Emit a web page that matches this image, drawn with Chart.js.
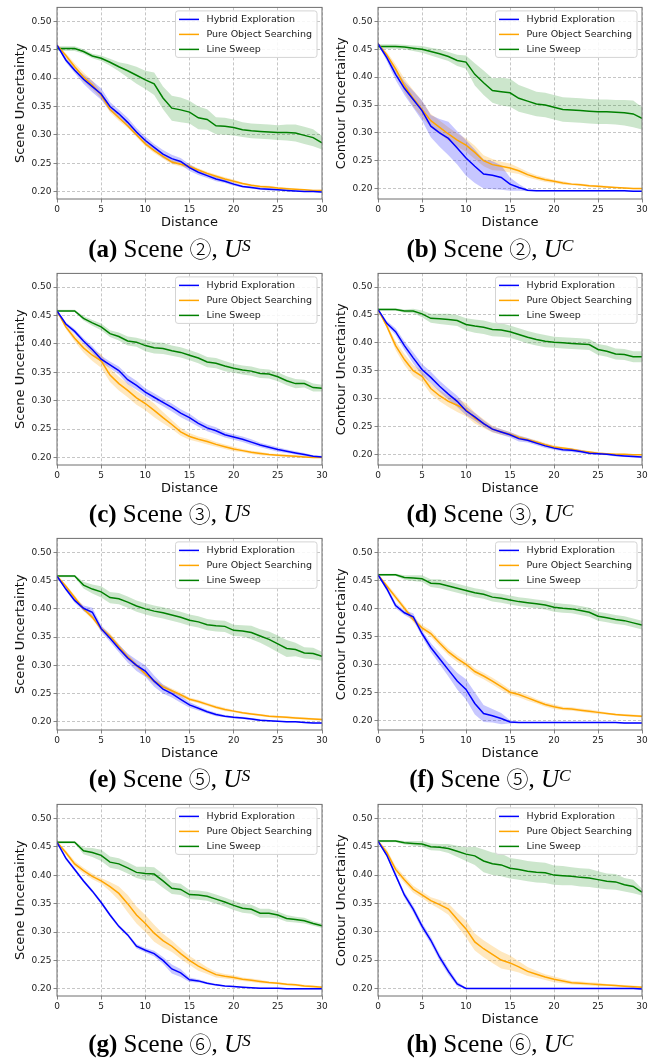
<!DOCTYPE html>
<html>
<head>
<meta charset="utf-8">
<script src="https://cdn.jsdelivr.net/npm/chart.js@4.4.0/dist/chart.umd.min.js"></script>
<style>
    html, body { margin: 0; padding: 0; background: #fff; }
    #fig { position: relative; width: 670px; height: 1061px; overflow: hidden; }
    .panel { position: absolute; width: 335px; height: 232px; }
    .caption {
        position: absolute; width: 335px; height: 30px; line-height: 30px;
        text-align: center; white-space: nowrap; color: #000;
        font-family: "Liberation Serif", "Times New Roman", serif; font-size: 25px;
    }
    .caption .circ { font-family: "Noto Sans CJK JP", "DejaVu Sans", sans-serif; font-size: 22px; font-weight: 300; }
    .caption sup { font-size: 17.5px; font-style: italic; vertical-align: 0; position: relative; top: -6px; }
</style>
</head>
<body>
<div id="fig"></div>
<script>
const distance = [0, 1, 2, 3, 4, 5, 6, 7, 8, 9, 10, 11, 12, 13, 14, 15, 16, 17, 18, 19, 20, 21, 22, 23, 24, 25, 26, 27, 28, 29, 30]
const xTicks = [0, 5, 10, 15, 20, 25, 30]
const yTicks = [0.20, 0.25, 0.30, 0.35, 0.40, 0.45, 0.50]
const seriesNames = ['Hybrid Exploration', 'Pure Object Searching', 'Line Sweep']

// (a) scene 2, U^S
const hybridA = [0.458, 0.432, 0.414, 0.398, 0.385, 0.372, 0.350, 0.337, 0.322, 0.305, 0.290, 0.278, 0.266, 0.258, 0.253, 0.242, 0.234, 0.228, 0.222, 0.218, 0.213, 0.209, 0.207, 0.205, 0.204, 0.203, 0.202, 0.201, 0.200, 0.200, 0.199]
const hybridBandA = [0.002, 0.004, 0.005, 0.008, 0.010, 0.010, 0.008, 0.007, 0.008, 0.007, 0.007, 0.006, 0.007, 0.007, 0.006, 0.006, 0.005, 0.004, 0.004, 0.003, 0.003, 0.002, 0.002, 0.002, 0.002, 0.001, 0.001, 0.001, 0.001, 0.001, 0.001]
const pureA = [0.458, 0.440, 0.420, 0.402, 0.388, 0.370, 0.345, 0.330, 0.316, 0.300, 0.284, 0.272, 0.262, 0.252, 0.248, 0.244, 0.238, 0.232, 0.227, 0.222, 0.218, 0.214, 0.211, 0.209, 0.208, 0.206, 0.205, 0.204, 0.203, 0.202, 0.202]
const pureBandA = [0.002, 0.004, 0.006, 0.008, 0.008, 0.006, 0.005, 0.005, 0.004, 0.004, 0.004, 0.004, 0.004, 0.004, 0.004, 0.004, 0.003, 0.003, 0.003, 0.003, 0.003, 0.002, 0.002, 0.002, 0.002, 0.002, 0.002, 0.001, 0.001, 0.001, 0.001]
const sweepA = [0.452, 0.452, 0.452, 0.447, 0.439, 0.435, 0.428, 0.420, 0.413, 0.405, 0.397, 0.390, 0.365, 0.347, 0.344, 0.340, 0.330, 0.327, 0.316, 0.315, 0.313, 0.309, 0.307, 0.306, 0.305, 0.304, 0.304, 0.303, 0.299, 0.295, 0.286]
const sweepBandA = [0.004, 0.004, 0.004, 0.004, 0.004, 0.005, 0.006, 0.008, 0.012, 0.015, 0.016, 0.020, 0.020, 0.022, 0.022, 0.020, 0.020, 0.018, 0.015, 0.015, 0.014, 0.013, 0.013, 0.013, 0.013, 0.013, 0.014, 0.015, 0.015, 0.015, 0.012]

// (b) scene 2, U^C
const hybridB = [0.460, 0.435, 0.405, 0.380, 0.360, 0.340, 0.312, 0.300, 0.290, 0.273, 0.255, 0.240, 0.226, 0.224, 0.220, 0.208, 0.202, 0.197, 0.196, 0.196, 0.196, 0.196, 0.196, 0.196, 0.196, 0.196, 0.196, 0.196, 0.196, 0.195, 0.195]
const hybridBandB = [0.002, 0.006, 0.010, 0.012, 0.015, 0.018, 0.020, 0.025, 0.030, 0.030, 0.032, 0.030, 0.026, 0.025, 0.022, 0.012, 0.006, 0.002, 0.001, 0.001, 0.001, 0.001, 0.001, 0.001, 0.001, 0.001, 0.001, 0.001, 0.001, 0.001, 0.001]
const pureB = [0.460, 0.440, 0.415, 0.385, 0.362, 0.342, 0.322, 0.310, 0.298, 0.287, 0.278, 0.265, 0.250, 0.243, 0.240, 0.237, 0.232, 0.225, 0.220, 0.216, 0.213, 0.210, 0.208, 0.207, 0.205, 0.204, 0.203, 0.202, 0.201, 0.200, 0.200]
const pureBandB = [0.002, 0.005, 0.008, 0.012, 0.015, 0.015, 0.012, 0.012, 0.012, 0.012, 0.012, 0.012, 0.010, 0.010, 0.008, 0.008, 0.006, 0.005, 0.004, 0.004, 0.003, 0.003, 0.002, 0.002, 0.002, 0.002, 0.002, 0.001, 0.001, 0.001, 0.001]
const sweepB = [0.455, 0.455, 0.455, 0.454, 0.452, 0.450, 0.446, 0.442, 0.437, 0.430, 0.427, 0.405, 0.390, 0.376, 0.374, 0.372, 0.362, 0.357, 0.352, 0.350, 0.346, 0.342, 0.341, 0.340, 0.339, 0.338, 0.338, 0.337, 0.336, 0.334, 0.326]
const sweepBandB = [0.004, 0.004, 0.004, 0.004, 0.005, 0.006, 0.007, 0.008, 0.008, 0.010, 0.012, 0.020, 0.022, 0.022, 0.025, 0.025, 0.024, 0.023, 0.022, 0.022, 0.022, 0.022, 0.022, 0.022, 0.022, 0.022, 0.022, 0.022, 0.023, 0.024, 0.020]

// (c) scene 3, U^S
const hybridC = [0.458, 0.435, 0.422, 0.405, 0.390, 0.373, 0.363, 0.353, 0.337, 0.327, 0.315, 0.306, 0.297, 0.288, 0.278, 0.270, 0.260, 0.252, 0.247, 0.240, 0.236, 0.232, 0.227, 0.222, 0.218, 0.214, 0.211, 0.208, 0.205, 0.202, 0.201]
const hybridBandC = [0.002, 0.003, 0.004, 0.005, 0.006, 0.006, 0.006, 0.007, 0.008, 0.008, 0.007, 0.007, 0.007, 0.007, 0.007, 0.007, 0.006, 0.006, 0.006, 0.005, 0.005, 0.005, 0.005, 0.004, 0.004, 0.004, 0.003, 0.003, 0.003, 0.002, 0.002]
const pureC = [0.458, 0.430, 0.410, 0.393, 0.380, 0.370, 0.345, 0.330, 0.318, 0.305, 0.295, 0.283, 0.270, 0.258, 0.245, 0.237, 0.232, 0.228, 0.223, 0.219, 0.215, 0.212, 0.209, 0.207, 0.205, 0.204, 0.203, 0.202, 0.201, 0.200, 0.200]
const pureBandC = [0.002, 0.004, 0.006, 0.008, 0.010, 0.012, 0.012, 0.012, 0.012, 0.012, 0.012, 0.012, 0.010, 0.008, 0.007, 0.006, 0.005, 0.005, 0.004, 0.004, 0.004, 0.003, 0.003, 0.003, 0.002, 0.002, 0.002, 0.002, 0.001, 0.001, 0.001]
const sweepC = [0.458, 0.458, 0.458, 0.445, 0.437, 0.430, 0.418, 0.413, 0.405, 0.403, 0.397, 0.393, 0.392, 0.388, 0.385, 0.380, 0.375, 0.368, 0.366, 0.361, 0.357, 0.354, 0.352, 0.348, 0.347, 0.342, 0.335, 0.330, 0.330, 0.323, 0.322]
const sweepBandC = [0.002, 0.002, 0.002, 0.004, 0.005, 0.006, 0.006, 0.007, 0.008, 0.008, 0.010, 0.010, 0.010, 0.009, 0.009, 0.009, 0.009, 0.009, 0.009, 0.009, 0.008, 0.008, 0.008, 0.008, 0.008, 0.008, 0.008, 0.008, 0.007, 0.007, 0.006]

// (d) scene 3, U^C
const hybridD = [0.460, 0.435, 0.420, 0.395, 0.373, 0.352, 0.338, 0.322, 0.308, 0.295, 0.278, 0.267, 0.255, 0.245, 0.240, 0.235, 0.228, 0.225, 0.220, 0.215, 0.211, 0.208, 0.207, 0.205, 0.202, 0.201, 0.200, 0.198, 0.197, 0.196, 0.195]
const hybridBandD = [0.002, 0.004, 0.006, 0.008, 0.010, 0.010, 0.010, 0.010, 0.010, 0.010, 0.008, 0.007, 0.006, 0.005, 0.005, 0.005, 0.005, 0.004, 0.004, 0.004, 0.003, 0.003, 0.003, 0.003, 0.002, 0.002, 0.002, 0.002, 0.002, 0.002, 0.002]
const pureD = [0.460, 0.430, 0.395, 0.370, 0.350, 0.340, 0.318, 0.305, 0.295, 0.288, 0.280, 0.265, 0.255, 0.245, 0.240, 0.236, 0.230, 0.226, 0.222, 0.217, 0.213, 0.211, 0.209, 0.206, 0.204, 0.202, 0.201, 0.200, 0.200, 0.199, 0.199]
const pureBandD = [0.002, 0.004, 0.008, 0.010, 0.010, 0.010, 0.010, 0.010, 0.010, 0.012, 0.012, 0.010, 0.008, 0.006, 0.005, 0.004, 0.004, 0.003, 0.003, 0.003, 0.003, 0.002, 0.002, 0.002, 0.002, 0.002, 0.001, 0.001, 0.001, 0.001, 0.001]
const sweepD = [0.460, 0.460, 0.460, 0.457, 0.457, 0.452, 0.444, 0.443, 0.442, 0.440, 0.433, 0.430, 0.428, 0.424, 0.423, 0.420, 0.415, 0.410, 0.406, 0.403, 0.401, 0.400, 0.399, 0.398, 0.397, 0.388, 0.385, 0.380, 0.379, 0.375, 0.375]
const sweepBandD = [0.002, 0.002, 0.002, 0.003, 0.004, 0.006, 0.008, 0.009, 0.010, 0.010, 0.011, 0.012, 0.012, 0.012, 0.012, 0.011, 0.011, 0.011, 0.011, 0.011, 0.010, 0.010, 0.010, 0.010, 0.010, 0.010, 0.010, 0.010, 0.010, 0.010, 0.010]

// (e) scene 5, U^S
const hybridE = [0.458, 0.435, 0.415, 0.401, 0.394, 0.365, 0.348, 0.330, 0.313, 0.300, 0.290, 0.272, 0.258, 0.250, 0.240, 0.230, 0.224, 0.218, 0.213, 0.210, 0.208, 0.207, 0.205, 0.203, 0.202, 0.201, 0.200, 0.200, 0.199, 0.198, 0.198]
const hybridBandE = [0.002, 0.003, 0.004, 0.005, 0.008, 0.006, 0.006, 0.007, 0.008, 0.010, 0.010, 0.010, 0.008, 0.007, 0.006, 0.005, 0.004, 0.003, 0.003, 0.002, 0.002, 0.002, 0.002, 0.002, 0.001, 0.001, 0.001, 0.001, 0.001, 0.001, 0.001]
const pureE = [0.458, 0.440, 0.420, 0.400, 0.385, 0.365, 0.352, 0.333, 0.315, 0.300, 0.285, 0.272, 0.262, 0.255, 0.248, 0.240, 0.236, 0.231, 0.226, 0.222, 0.219, 0.216, 0.214, 0.212, 0.210, 0.209, 0.208, 0.207, 0.206, 0.205, 0.204]
const pureBandE = [0.002, 0.003, 0.004, 0.004, 0.004, 0.004, 0.005, 0.005, 0.005, 0.004, 0.004, 0.004, 0.004, 0.004, 0.004, 0.003, 0.003, 0.003, 0.003, 0.003, 0.002, 0.002, 0.002, 0.002, 0.002, 0.002, 0.002, 0.002, 0.002, 0.002, 0.002]
const sweepE = [0.458, 0.458, 0.458, 0.442, 0.435, 0.430, 0.420, 0.418, 0.412, 0.405, 0.400, 0.396, 0.393, 0.389, 0.385, 0.380, 0.377, 0.372, 0.370, 0.369, 0.362, 0.361, 0.358, 0.352, 0.346, 0.338, 0.330, 0.328, 0.322, 0.321, 0.316]
const sweepBandE = [0.002, 0.002, 0.002, 0.006, 0.008, 0.010, 0.010, 0.010, 0.010, 0.010, 0.010, 0.010, 0.010, 0.010, 0.010, 0.010, 0.010, 0.010, 0.010, 0.010, 0.010, 0.010, 0.012, 0.012, 0.014, 0.015, 0.015, 0.012, 0.010, 0.010, 0.008]

// (f) scene 5, U^C
const hybridF = [0.460, 0.435, 0.405, 0.392, 0.385, 0.355, 0.330, 0.310, 0.290, 0.270, 0.255, 0.230, 0.212, 0.208, 0.203, 0.197, 0.196, 0.196, 0.196, 0.196, 0.196, 0.196, 0.196, 0.196, 0.196, 0.196, 0.196, 0.196, 0.195, 0.195, 0.195]
const hybridBandF = [0.002, 0.004, 0.005, 0.004, 0.006, 0.006, 0.008, 0.010, 0.012, 0.015, 0.018, 0.020, 0.015, 0.012, 0.010, 0.003, 0.001, 0.001, 0.001, 0.001, 0.001, 0.001, 0.001, 0.001, 0.001, 0.001, 0.001, 0.001, 0.001, 0.001, 0.001]
const pureF = [0.460, 0.440, 0.420, 0.400, 0.380, 0.365, 0.355, 0.338, 0.322, 0.310, 0.300, 0.287, 0.279, 0.270, 0.260, 0.250, 0.246, 0.240, 0.234, 0.228, 0.224, 0.221, 0.220, 0.218, 0.216, 0.214, 0.212, 0.210, 0.209, 0.208, 0.207]
const pureBandF = [0.002, 0.004, 0.005, 0.005, 0.005, 0.005, 0.006, 0.006, 0.006, 0.006, 0.006, 0.006, 0.006, 0.006, 0.006, 0.005, 0.005, 0.005, 0.004, 0.004, 0.004, 0.003, 0.003, 0.003, 0.003, 0.003, 0.002, 0.002, 0.002, 0.002, 0.002]
const sweepF = [0.460, 0.460, 0.460, 0.455, 0.454, 0.453, 0.445, 0.444, 0.440, 0.436, 0.432, 0.428, 0.425, 0.420, 0.418, 0.415, 0.412, 0.410, 0.408, 0.406, 0.402, 0.400, 0.399, 0.396, 0.393, 0.386, 0.383, 0.380, 0.378, 0.374, 0.370]
const sweepBandF = [0.002, 0.002, 0.002, 0.004, 0.005, 0.006, 0.007, 0.008, 0.008, 0.008, 0.008, 0.008, 0.008, 0.008, 0.008, 0.008, 0.008, 0.008, 0.008, 0.008, 0.008, 0.008, 0.008, 0.008, 0.008, 0.008, 0.008, 0.008, 0.008, 0.008, 0.008]

// (g) scene 6, U^S
const hybridG = [0.458, 0.430, 0.410, 0.390, 0.372, 0.352, 0.330, 0.310, 0.295, 0.275, 0.268, 0.262, 0.250, 0.235, 0.228, 0.216, 0.214, 0.210, 0.207, 0.205, 0.204, 0.203, 0.202, 0.201, 0.201, 0.201, 0.200, 0.200, 0.200, 0.200, 0.200]
const hybridBandG = [0.002, 0.003, 0.003, 0.003, 0.003, 0.003, 0.003, 0.003, 0.003, 0.004, 0.004, 0.005, 0.006, 0.008, 0.007, 0.004, 0.003, 0.002, 0.002, 0.001, 0.001, 0.001, 0.001, 0.001, 0.001, 0.001, 0.001, 0.001, 0.001, 0.001, 0.001]
const pureG = [0.458, 0.440, 0.420, 0.408, 0.398, 0.390, 0.380, 0.368, 0.350, 0.330, 0.315, 0.298, 0.285, 0.275, 0.262, 0.250, 0.240, 0.232, 0.225, 0.222, 0.220, 0.217, 0.215, 0.213, 0.211, 0.210, 0.208, 0.207, 0.205, 0.204, 0.203]
const pureBandG = [0.002, 0.004, 0.005, 0.005, 0.005, 0.005, 0.008, 0.012, 0.015, 0.015, 0.015, 0.015, 0.012, 0.010, 0.009, 0.008, 0.008, 0.006, 0.005, 0.004, 0.004, 0.003, 0.003, 0.003, 0.002, 0.002, 0.002, 0.002, 0.002, 0.002, 0.002]
const sweepG = [0.458, 0.458, 0.458, 0.443, 0.440, 0.435, 0.423, 0.420, 0.413, 0.405, 0.403, 0.402, 0.390, 0.377, 0.375, 0.366, 0.365, 0.363, 0.358, 0.353, 0.347, 0.342, 0.340, 0.333, 0.333, 0.330, 0.324, 0.322, 0.320, 0.315, 0.311]
const sweepBandG = [0.002, 0.002, 0.002, 0.006, 0.008, 0.010, 0.010, 0.010, 0.010, 0.010, 0.012, 0.012, 0.012, 0.010, 0.010, 0.008, 0.008, 0.008, 0.008, 0.008, 0.008, 0.008, 0.008, 0.008, 0.008, 0.006, 0.006, 0.005, 0.005, 0.004, 0.004]

// (h) scene 6, U^C
const hybridH = [0.460, 0.435, 0.400, 0.365, 0.340, 0.310, 0.285, 0.255, 0.230, 0.208, 0.200, 0.200, 0.200, 0.200, 0.200, 0.200, 0.200, 0.200, 0.200, 0.200, 0.200, 0.200, 0.200, 0.200, 0.200, 0.200, 0.200, 0.200, 0.200, 0.200, 0.199]
const hybridBandH = [0.002, 0.003, 0.004, 0.005, 0.006, 0.006, 0.006, 0.006, 0.006, 0.004, 0.001, 0.001, 0.001, 0.001, 0.001, 0.001, 0.001, 0.001, 0.001, 0.001, 0.001, 0.001, 0.001, 0.001, 0.001, 0.001, 0.001, 0.001, 0.001, 0.001, 0.001]
const pureH = [0.460, 0.440, 0.410, 0.392, 0.375, 0.365, 0.355, 0.348, 0.340, 0.322, 0.305, 0.282, 0.270, 0.260, 0.250, 0.245, 0.238, 0.230, 0.225, 0.220, 0.216, 0.213, 0.210, 0.209, 0.208, 0.207, 0.206, 0.205, 0.204, 0.203, 0.202]
const pureBandH = [0.002, 0.005, 0.006, 0.006, 0.006, 0.006, 0.006, 0.008, 0.010, 0.012, 0.015, 0.015, 0.015, 0.015, 0.015, 0.013, 0.010, 0.008, 0.006, 0.005, 0.005, 0.004, 0.003, 0.003, 0.003, 0.003, 0.002, 0.002, 0.002, 0.002, 0.002]
const sweepH = [0.460, 0.460, 0.460, 0.457, 0.456, 0.455, 0.450, 0.449, 0.447, 0.442, 0.437, 0.434, 0.425, 0.420, 0.418, 0.412, 0.410, 0.407, 0.405, 0.404, 0.400, 0.399, 0.398, 0.396, 0.395, 0.392, 0.389, 0.388, 0.383, 0.380, 0.370]
const sweepBandH = [0.002, 0.002, 0.002, 0.003, 0.004, 0.005, 0.006, 0.006, 0.008, 0.010, 0.012, 0.016, 0.020, 0.020, 0.020, 0.018, 0.018, 0.018, 0.018, 0.018, 0.017, 0.017, 0.016, 0.016, 0.016, 0.015, 0.014, 0.014, 0.012, 0.012, 0.006]

const lineColors = ['#0000ff', '#ffa500', '#008000']
const bandColors = ['rgba(0, 0, 255, 0.22)', 'rgba(255, 165, 0, 0.25)', 'rgba(0, 128, 0, 0.2)']

const panels = [
    {tag: 'a', scene: '②', u: 'S', yMin: 0.1868, yMax: 0.5247, series: [[hybridA, hybridBandA], [pureA, pureBandA], [sweepA, sweepBandA]]},
    {tag: 'b', scene: '②', u: 'C', yMin: 0.1813, yMax: 0.5252, series: [[hybridB, hybridBandB], [pureB, pureBandB], [sweepB, sweepBandB]]},
    {tag: 'c', scene: '③', u: 'S', yMin: 0.1867, yMax: 0.5241, series: [[hybridC, hybridBandC], [pureC, pureBandC], [sweepC, sweepBandC]]},
    {tag: 'd', scene: '③', u: 'C', yMin: 0.1807, yMax: 0.5246, series: [[hybridD, hybridBandD], [pureD, pureBandD], [sweepD, sweepBandD]]},
    {tag: 'e', scene: '⑤', u: 'S', yMin: 0.1856, yMax: 0.5247, series: [[hybridE, hybridBandE], [pureE, pureBandE], [sweepE, sweepBandE]]},
    {tag: 'f', scene: '⑤', u: 'C', yMin: 0.1825, yMax: 0.5250, series: [[hybridF, hybridBandF], [pureF, pureBandF], [sweepF, sweepBandF]]},
    {tag: 'g', scene: '⑥', u: 'S', yMin: 0.1874, yMax: 0.5247, series: [[hybridG, hybridBandG], [pureG, pureBandG], [sweepG, sweepBandG]]},
    {tag: 'h', scene: '⑥', u: 'C', yMin: 0.1866, yMax: 0.5248, series: [[hybridH, hybridBandH], [pureH, pureBandH], [sweepH, sweepBandH]]},
]

// layout of the 4x2 grid
const plotTops = [3, 269, 534, 800]
const captionCenters = [247, 512, 777, 1042]
const captionX = [169.5, 490]
const font = 'DejaVu Sans'

const toPoints = (values) => values.map((v, i) => ({x: distance[i], y: v}))

// frame round the axes + matplotlib style legend box
const framePlugin = {
    id: 'frameLegend',
    afterDatasetsDraw(chart) {
        const {ctx, chartArea: a} = chart
        ctx.save()
        ctx.strokeStyle = '#6e6e6e'
        ctx.lineWidth = 1
        ctx.strokeRect(a.left, a.top, a.right - a.left, a.bottom - a.top)

        const lines = chart.data.datasets.filter(d => d.label)
        const w = 141.5, h = 46.5
        const bx = a.right - 5 - w, by = a.top + 3.5
        ctx.beginPath()
        ctx.roundRect(bx, by, w, h, 2.5)
        ctx.fillStyle = 'rgba(255, 255, 255, 0.85)'
        ctx.fill()
        ctx.strokeStyle = '#d4d4d4'
        ctx.lineWidth = 1
        ctx.stroke()

        ctx.font = `9.5px "${font}"`
        ctx.textBaseline = 'middle'
        lines.forEach((d, i) => {
            const y = by + 8.5 + i * 15
            ctx.strokeStyle = d.borderColor
            ctx.lineWidth = 1.5
            ctx.beginPath()
            ctx.moveTo(bx + 3.5, y)
            ctx.lineTo(bx + 23.5, y)
            ctx.stroke()
            ctx.fillStyle = '#222'
            ctx.fillText(d.label, bx + 31, y)
        })
        ctx.restore()
    }
}

const makePanel = (p, idx) => {
    const fig = document.getElementById('fig')
    const col = idx % 2
    const row = Math.floor(idx / 2)
    const isLeft = col === 0

    const box = document.createElement('div')
    box.className = 'panel'
    box.style.left = (col * 335) + 'px'
    box.style.top = (plotTops[row] - 3) + 'px'
    const canvas = document.createElement('canvas')
    canvas.width = 335
    canvas.height = 232
    box.appendChild(canvas)
    fig.appendChild(box)

    const cap = document.createElement('div')
    cap.className = 'caption'
    cap.style.left = (captionX[col] - 167.5) + 'px'
    cap.style.top = (captionCenters[row] - 15) + 'px'
    cap.innerHTML = `<b>(${p.tag})</b> Scene <span class="circ">${p.scene}</span>, <i>U</i><sup>${p.u}</sup>`
    fig.appendChild(cap)

    const datasets = []
    p.series.forEach(([mean, band], k) => {
        datasets.push({
            data: toPoints(mean.map((v, i) => v - band[i])),
            borderColor: 'rgba(0,0,0,0)', borderWidth: 0, pointRadius: 0, fill: false, order: 2,
        })
        datasets.push({
            data: toPoints(mean.map((v, i) => v + band[i])),
            borderColor: 'rgba(0,0,0,0)', borderWidth: 0, pointRadius: 0,
            fill: '-1', backgroundColor: bandColors[k], order: 2,
        })
    })
    p.series.forEach(([mean], k) => {
        datasets.push({
            label: seriesNames[k],
            data: toPoints(mean),
            borderColor: lineColors[k], borderWidth: 1.5, pointRadius: 0, fill: false, order: 1,
        })
    })

    const tickFont = {family: font, size: 9}
    new Chart(canvas, {
        type: 'line',
        data: {datasets},
        options: {
            responsive: false,
            animation: false,
            events: [],
            layout: {padding: {top: 3, right: isLeft ? 13 : 28, left: 0, bottom: 0}},
            plugins: {legend: {display: false}, tooltip: {enabled: false}},
            elements: {line: {tension: 0}},
            scales: {
                x: {
                    type: 'linear', min: 0, max: 30,
                    afterBuildTicks: s => { s.ticks = xTicks.map(v => ({value: v})) },
                    afterFit: s => { s.height = 33 },
                    grid: {color: '#b8b8b8', lineWidth: 0.8, tickLength: 3.5, tickColor: '#666'},
                    border: {display: false, dash: [3, 2]},
                    ticks: {font: tickFont, color: '#222', padding: 2, maxRotation: 0, callback: v => v},
                    title: {display: true, text: 'Distance', color: '#111', font: {family: font, size: 13}, padding: {top: 0, bottom: 1.5}},
                },
                y: {
                    type: 'linear', min: p.yMin, max: p.yMax,
                    afterBuildTicks: s => { s.ticks = yTicks.map(v => ({value: v})) },
                    afterFit: s => { s.width = isLeft ? 57 : 43 },
                    grid: {color: '#b8b8b8', lineWidth: 0.8, tickLength: 3.5, tickColor: '#666'},
                    border: {display: false, dash: [3, 2]},
                    ticks: {font: tickFont, color: '#222', padding: 2, callback: v => v.toFixed(2)},
                    title: {
                        display: true, text: isLeft ? 'Scene Uncertainty' : 'Contour Uncertainty', color: '#111',
                        font: {family: font, size: 13}, padding: {top: isLeft ? 13 : -1.5, bottom: 0},
                    },
                },
            },
        },
        plugins: [framePlugin],
    })
}

panels.forEach(makePanel)
</script>
</body>
</html>
